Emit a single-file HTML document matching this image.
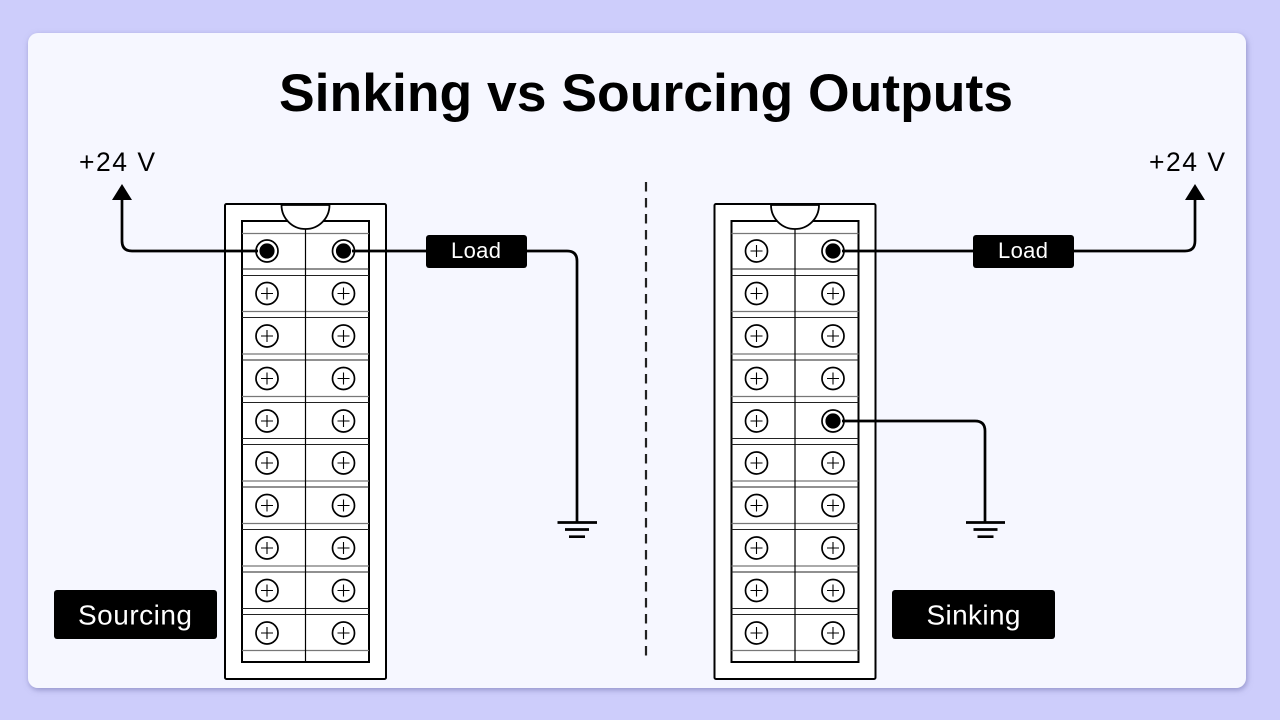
<!DOCTYPE html>
<html><head><meta charset="utf-8"><style>
html,body{margin:0;padding:0;background:#cdcdfb;width:1280px;height:720px;overflow:hidden}
svg{display:block}
text{font-family:"Liberation Sans",sans-serif}
</style></head><body>
<svg width="1280" height="720" viewBox="0 0 1280 720" xmlns="http://www.w3.org/2000/svg">
<defs>
<filter id="sh" x="-5%" y="-5%" width="110%" height="110%"><feDropShadow dx="1" dy="2" stdDeviation="3" flood-color="#6c6ca8" flood-opacity=".6"/></filter>
<g id="p"><circle r="11" fill="#fff" stroke="#000" stroke-width="1.7"/><path d="M-6 0H6M0-6V6" stroke="#000" stroke-width="1.1" fill="none"/></g>
<g id="a"><circle r="11" fill="#fff" stroke="#000" stroke-width="1.7"/><circle r="7.6" fill="#000"/></g>
<g id="block">
<rect x="225" y="204" width="161" height="475" rx="1.5" fill="#fff" stroke="#000" stroke-width="2"/>
<rect x="242" y="221" width="127" height="441" fill="#fff" stroke="#000" stroke-width="2"/>
<path d="M242 233.500H369M242 650.500H369M242 311.500H369M242 354H369M242 396.500H369M242 481H369M242 523.500H369M242 566H369" stroke="#777" stroke-width="1.200" fill="none"/>
<path d="M242 269H369M242 275.500H369M242 317.500H369M242 360H369M242 402.500H369M242 438.500H369M242 444.500H369M242 487H369M242 529.500H369M242 572H369M242 608.500H369M242 614.500H369" stroke="#222" stroke-width="1.100" fill="none"/>
<path d="M305.500 221V662" stroke="#000" stroke-width="1.200"/>
<path d="M281.500 205A24 24 0 0 0 329.500 205Z" fill="#fff" stroke="#000" stroke-width="1.800"/>
</g>
</defs>
<rect x="28" y="33" width="1218" height="655" rx="10" fill="#f6f7ff" filter="url(#sh)"/>
<text x="646" y="111" text-anchor="middle" font-size="53" font-weight="700" fill="#000" textLength="734" lengthAdjust="spacingAndGlyphs">Sinking vs Sourcing Outputs</text>

<path d="M646 182V656" stroke="#222" stroke-width="2.200" stroke-dasharray="9.500 6.500" fill="none"/>

<use href="#block"/>
<use href="#block" x="489.500"/>

<!-- left terminals -->
<use href="#a" x="267" y="251"/><use href="#a" x="343.500" y="251"/>
<use href="#p" x="267" y="293.500"/><use href="#p" x="343.500" y="293.500"/>
<use href="#p" x="267" y="336"/><use href="#p" x="343.500" y="336"/>
<use href="#p" x="267" y="378.500"/><use href="#p" x="343.500" y="378.500"/>
<use href="#p" x="267" y="421"/><use href="#p" x="343.500" y="421"/>
<use href="#p" x="267" y="463"/><use href="#p" x="343.500" y="463"/>
<use href="#p" x="267" y="505.500"/><use href="#p" x="343.500" y="505.500"/>
<use href="#p" x="267" y="548"/><use href="#p" x="343.500" y="548"/>
<use href="#p" x="267" y="590.500"/><use href="#p" x="343.500" y="590.500"/>
<use href="#p" x="267" y="633"/><use href="#p" x="343.500" y="633"/>

<!-- right terminals -->
<use href="#p" x="756.500" y="251"/><use href="#a" x="833" y="251"/>
<use href="#p" x="756.500" y="293.500"/><use href="#p" x="833" y="293.500"/>
<use href="#p" x="756.500" y="336"/><use href="#p" x="833" y="336"/>
<use href="#p" x="756.500" y="378.500"/><use href="#p" x="833" y="378.500"/>
<use href="#p" x="756.500" y="421"/><use href="#a" x="833" y="421"/>
<use href="#p" x="756.500" y="463"/><use href="#p" x="833" y="463"/>
<use href="#p" x="756.500" y="505.500"/><use href="#p" x="833" y="505.500"/>
<use href="#p" x="756.500" y="548"/><use href="#p" x="833" y="548"/>
<use href="#p" x="756.500" y="590.500"/><use href="#p" x="833" y="590.500"/>
<use href="#p" x="756.500" y="633"/><use href="#p" x="833" y="633"/>

<!-- wires -->
<g fill="none" stroke="#000" stroke-width="2.700">
<path d="M122 198V241Q122 251 132 251H258"/>
<path d="M352 251H567Q577 251 577 261V522"/>
<path d="M842 251H1185Q1195 251 1195 241V198"/>
<path d="M842 421H975Q985 421 985 431V522"/>
<path d="M557.500 522.500H597M565 529.500H589M569 536.700H585"/>
<path d="M966 522.500H1005M973.500 529.500H997.500M977.500 536.700H993.500"/>
</g>
<path d="M122 184L132 200H112Z" fill="#000"/>
<path d="M1195 184L1205 200H1185Z" fill="#000"/>

<text x="117" y="171" text-anchor="middle" font-size="26.500" fill="#000" textLength="76" lengthAdjust="spacing">+24 V</text>
<text x="1187" y="171" text-anchor="middle" font-size="26.500" fill="#000" textLength="76" lengthAdjust="spacing">+24 V</text>

<rect x="426" y="235" width="101" height="33" rx="3" fill="#000"/>
<text x="476" y="258" text-anchor="middle" font-size="22" fill="#fff" textLength="50" lengthAdjust="spacing">Load</text>
<rect x="973" y="235" width="101" height="33" rx="3" fill="#000"/>
<text x="1023" y="258" text-anchor="middle" font-size="22" fill="#fff" textLength="50" lengthAdjust="spacing">Load</text>

<rect x="54" y="590" width="163" height="49" rx="3" fill="#000"/>
<text x="135" y="624.500" text-anchor="middle" font-size="28" fill="#fff" textLength="114" lengthAdjust="spacing">Sourcing</text>
<rect x="892" y="590" width="163" height="49" rx="3" fill="#000"/>
<text x="973.500" y="624.500" text-anchor="middle" font-size="28" fill="#fff" textLength="94" lengthAdjust="spacing">Sinking</text>
</svg>
</body></html>
